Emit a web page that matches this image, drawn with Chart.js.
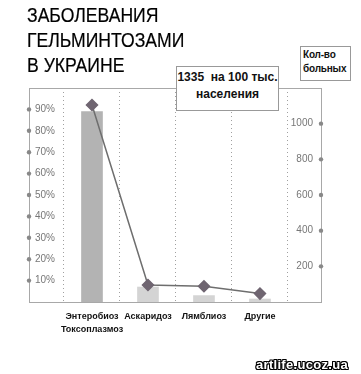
<!DOCTYPE html>
<html>
<head>
<meta charset="utf-8">
<script src="https://cdn.jsdelivr.net/npm/chart.js@4/dist/chart.umd.min.js"></script>
<style>
  body { margin: 0; background: #fff; }
  #wrap { position: relative; width: 361px; height: 374px; overflow: hidden; font-family: "Liberation Sans", Arial, sans-serif; }
  #c { position: absolute; left: 0; top: 0; }
  .title { position: absolute; left: 27px; top: 3px; font-size: 20px; line-height: 25px; color: #000; transform: scaleX(0.88); transform-origin: left top; white-space: nowrap; -webkit-text-stroke: 0.2px #000; }
  .box { position: absolute; background: #fff; border: 1px solid #999; font-weight: bold; color: #111; }
  .wm { position: absolute; left: 256px; top: 357px; font-size: 13px; font-weight: bold; color: #fff; letter-spacing: 0.3px;
        text-shadow: 1px 0 0 #000, -1px 0 0 #000, 0 1px 0 #000, 0 -1px 0 #000, 1px 1px 0 #000, -1px -1px 0 #000, 1px -1px 0 #000, -1px 1px 0 #000; }
</style>
</head>
<body>
<div id="wrap">
  <canvas id="c" width="361" height="374"></canvas>
  <div class="title">ЗАБОЛЕВАНИЯ<br>ГЕЛЬМИНТОЗАМИ<br>В УКРАИНЕ</div>
  <div class="box" style="left:300px;top:46px;width:47px;height:32px;font-size:10px;line-height:14px;padding-left:2px;padding-top:1px;letter-spacing:-0.2px;">Кол-во<br>больных</div>
  <div class="box" style="left:176px;top:66px;width:101px;height:41px;font-size:12px;line-height:17px;text-align:center;padding-top:2px;">1335&nbsp; на 100 тыс.<br>населения</div>
  <div class="wm">artlife.ucoz.ua</div>
</div>
<script>
var categories = [['Энтеробиоз', 'Токсоплазмоз'], 'Аскаридоз', 'Лямблиоз', 'Другие'];
var percentValues = [89, 7, 3, 1.4];
var patientValues = [1105, 95, 88, 47];
var percentTicks = [10, 20, 30, 40, 50, 60, 70, 80, 90];
var patientTicks = [200, 400, 600, 800, 1000];

var barColors = ['#b3b3b3', '#d4d4d4', '#d4d4d4', '#d4d4d4'];

var tickDots = {
  id: 'tickDots',
  afterDatasetsDraw: function(chart) {
    var ctx = chart.ctx, a = chart.chartArea;
    ctx.save();
    ctx.strokeStyle = '#a8a8a8';
    ctx.lineWidth = 1;
    ctx.beginPath();
    ctx.moveTo(a.left, a.top + 0.5);
    ctx.lineTo(a.right, a.top + 0.5);
    ctx.stroke();
    ctx.fillStyle = '#888';
    ['y', 'y2'].forEach(function(id) {
      var s = chart.scales[id];
      var x = id === 'y' ? a.left : a.right;
      s.ticks.forEach(function(t) {
        ctx.beginPath();
        ctx.arc(x, s.getPixelForValue(t.value), 2.2, 0, Math.PI * 2);
        ctx.fill();
      });
    });
    ctx.restore();
  }
};

new Chart(document.getElementById('c'), {
  type: 'bar',
  data: {
    datasets: [
      {
        type: 'line',
        data: patientValues.map(function(v, i) { return { x: i, y: v }; }),
        yAxisID: 'y2',
        borderColor: '#6e6e6e',
        borderWidth: 1.5,
        pointStyle: 'rectRot',
        pointRadius: 5.5,
        pointBackgroundColor: '#6f6571',
        pointBorderColor: '#6f6571',
        tension: 0
      },
      {
        data: percentValues.map(function(v, i) { return { x: i, y: v }; }),
        yAxisID: 'y',
        backgroundColor: barColors,
        barThickness: 21
      }
    ]
  },
  options: {
    animation: false,
    responsive: false,
    layout: { padding: { left: 29, right: 40, top: 88, bottom: 0 } },
    plugins: { legend: { display: false }, tooltip: { enabled: false } },
    scales: {
      x: {
        type: 'linear',
        min: -1.125,
        max: 4.09,
        offset: false,
        afterBuildTicks: function(s) {
          var t = [];
          for (var v = -0.5; v <= 3.5; v += 0.5) t.push({ value: v });
          s.ticks = t;
        },
        afterFit: function(s) { s.height = 72; },
        border: { display: true, color: '#a8a8a8', width: 1, dash: [1, 3] },
        grid: {
          offset: false,
          drawTicks: false,
          color: function(c) {
            if (!c.tick) return '#b8b8b8';
            return Number.isInteger(c.tick.value) ? 'rgba(0,0,0,0)' : '#a0a0a0';
          },
          lineWidth: 1
        },
        ticks: {
          autoSkip: false,
          maxRotation: 0,
          padding: 8,
          color: '#111',
          font: { family: 'Liberation Sans', size: 9, weight: 'bold', lineHeight: 1.45 },
          callback: function(v) { return Number.isInteger(v) ? categories[v] : ''; }
        }
      },
      y: {
        position: 'left',
        min: 0,
        max: 100,
        afterBuildTicks: function(s) { s.ticks = percentTicks.map(function(v) { return { value: v }; }); },
        afterFit: function(s) { s.width = 0; },
        border: { display: true, color: '#a8a8a8', width: 1 },
        grid: { display: false },
        ticks: {
          mirror: true,
          padding: 6,
          color: '#777',
          font: { family: 'Liberation Sans', size: 10 },
          callback: function(v) { return v + '%'; }
        }
      },
      y2: {
        position: 'right',
        min: 0,
        max: 1200,
        afterBuildTicks: function(s) { s.ticks = patientTicks.map(function(v) { return { value: v }; }); },
        afterFit: function(s) { s.width = 0; },
        border: { display: true, color: '#a8a8a8', width: 1 },
        grid: { display: false },
        ticks: {
          mirror: true,
          padding: -8,
          color: '#777',
          font: { family: 'Liberation Sans', size: 10 },
          callback: function(v) { return String(v); }
        }
      }
    }
  },
  plugins: [tickDots]
});
</script>
</body>
</html>
